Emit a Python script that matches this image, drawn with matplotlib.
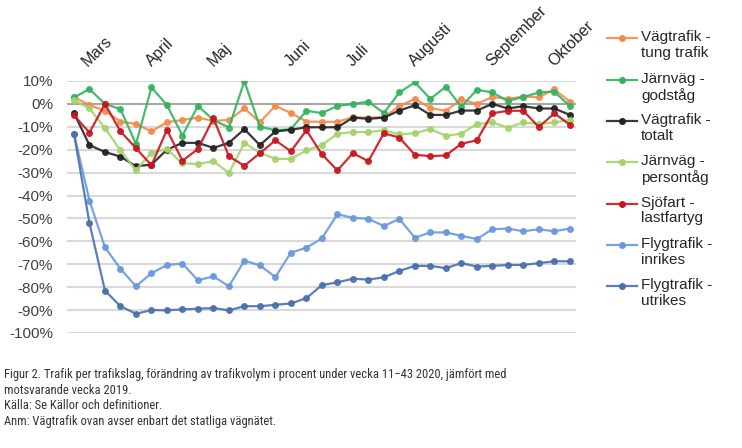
import matplotlib
matplotlib.use("Agg")
import matplotlib.pyplot as plt
from matplotlib import font_manager
from matplotlib.lines import Line2D
import numpy as np

# weeks 11-43, 2020 vs 2019, percent change
WEEKS = list(range(11, 44))

tung_trafik = [3, -0.5, -3, -7.7, -8.8, -12, -8, -7, -6, -7.4, -7, -2, -8, -0.8, -4, -7.7,
               -7.8, -7.8, -5.8, -6, -5.8, -1, 2.2, -1.8, -3, 2, 0, 3, 2.2, 3.2, 2.9, 6.4, 1]
godstag = [2.8, 6.5, 0, -2.3, -17.5, 7.2, -0.5, -13.8, -0.9, -7, -10.3, 9.9, -10, -11.5, -11,
           -3, -4, -0.9, 0, 1, -4, 5, 9.4, 2.2, 7.5, -1.3, 6.2, 5, 1.3, 3, 5, 5.4, -1]
totalt = [-4, -18, -21, -23, -27.2, -26.5, -20, -17, -17, -19.2, -17, -11, -18, -12, -11.3,
          -10.2, -10.2, -10.2, -6, -6.5, -6, -2.9, -0.6, -4.8, -4.8, -2.9, -2.9, 0, -2, -1, -2, -2, -4.8]
persontag = [1.7, -2, -10.6, -20.3, -28.9, -21.3, -19.7, -26, -26.2, -25, -30.2, -17, -21.3, -24,
             -24, -20.3, -18, -13, -12.3, -12.3, -11.5, -13.3, -12.8, -11, -13.9, -13, -8.8, -8.1,
             -10.3, -8.1, -8.8, -8.1, -7]
lastfartyg = [-5, -12.5, 0, -12, -19.3, -26.8, -11.3, -24.8, -19.7, -6.2, -22.9, -27, -21.5,
              -15.9, -20.7, -11.5, -22, -29, -21.5, -25, -12.8, -14.7, -22.2, -22.8, -22.5, -17.4,
              -15.9, -4.1, -3, -3, -10.1, -4.1, -9.1]
inrikes = [-13, -42.2, -62.6, -72, -79.6, -73.9, -70.3, -69.7, -77, -75.3, -79.6, -68.4, -70.5,
           -75.6, -64.9, -62.8, -58.7, -48.2, -49.7, -50.2, -53.3, -50.2, -58.4, -56.1, -56.1,
           -57.6, -59, -54.7, -54.4, -55.6, -54.7, -55.6, -54.4]
utrikes = [-13, -52, -81.5, -88.3, -91.6, -90, -90.1, -89.7, -89.4, -89.1, -90.1, -88.3, -88.3,
           -87.7, -87.1, -84.8, -79.1, -77.9, -76.3, -76.7, -75.7, -72.9, -70.7, -70.7, -71.7,
           -69.5, -71, -70.7, -70.3, -70.3, -69.5, -68.7, -68.7]

MONTHS = ["Mars", "April", "Maj", "Juni", "Juli", "Augusti", "September", "Oktober"]
MONTH_POS = [0.9, 5.0, 9.0, 14.0, 18.0, 22.0, 27.0, 31.0]

SERIES = [
    ("Vägtrafik -\ntung trafik", tung_trafik, "#F28C4E"),
    ("Järnväg -\ngodståg", godstag, "#34B35E"),
    ("Vägtrafik -\ntotalt", totalt, "#222222"),
    ("Järnväg -\npersontåg", persontag, "#A3D46A"),
    ("Sjöfart -\nlastfartyg", lastfartyg, "#C8161E"),
    ("Flygtrafik -\ninrikes", inrikes, "#6A98DE"),
    ("Flygtrafik -\nutrikes", utrikes, "#4A6FAE"),
]

CAPTION = [
    "Figur 2. Trafik per trafikslag, förändring av trafikvolym i procent under vecka 11\u221243 2020, jämfört med",
    "motsvarande vecka 2019.",
    "Källa: Se Källor och definitioner.",
    "Anm: Vägtrafik ovan avser enbart det statliga vägnätet.",
]

# caption in the reference is a condensed face; use one if present, else shrink Roboto
names = set(font_manager.get_font_names())
caption_font, caption_size = "Roboto", 7.7
for fam in ["Roboto Condensed", "Liberation Sans Narrow", "DejaVu Sans Condensed"]:
    if fam in names:
        caption_font, caption_size = fam, 9
        break

plt.rcParams["font.family"] = ["Liberation Sans", "DejaVu Sans"]

fig = plt.figure(figsize=(7.42, 4.48), dpi=100)
ax = fig.add_axes([67 / 742, 1 - 333 / 448, 509 / 742, 252 / 448])

x = np.arange(len(WEEKS))
for label, values, col in SERIES:
    ax.plot(x, values, color=col, lw=1.6, marker="o", ms=4, alpha=0.9, zorder=3)

ax.set_xlim(-0.45, 32.4)
ax.set_ylim(-100, 10)
yt = np.arange(-100, 11, 10)
ax.set_yticks(yt)
ax.set_yticklabels([f"{v}%" for v in yt], fontsize=11, color="#404040")
ax.set_xticks([])
ax.tick_params(axis="y", length=0, pad=10)
for s in ax.spines.values():
    s.set_visible(False)
for v in yt:
    ax.axhline(v, color="#A6A6A6" if v == 0 else "#D9D9D9", lw=1.5, zorder=1)

for m, p in zip(MONTHS, MONTH_POS):
    ax.text(p, 1.055, m, transform=ax.get_xaxis_transform(), rotation=45,
            rotation_mode="anchor", ha="left", va="baseline", fontsize=11.5, color="#262626")

# legend, handle aligned to first text line
for k, (label, values, col) in enumerate(SERIES):
    yc = 1 - (38.5 + 41.3 * k) / 448
    fig.add_artist(Line2D([607 / 742, 637 / 742], [yc, yc], color=col, lw=1.6,
                          transform=fig.transFigure, alpha=0.9))
    fig.add_artist(Line2D([622 / 742], [yc], color=col, marker="o", ms=4,
                          transform=fig.transFigure))
    fig.text(641 / 742, yc + 8 / 448, label, fontsize=11, color="#262626",
             va="top", ha="left", linespacing=1.15)

for k, line in enumerate(CAPTION):
    fig.text(4 / 742, 1 - (378 + 15.5 * k) / 448, line, family=caption_font,
             fontsize=caption_size, color="#333333", va="baseline", ha="left")

fig.savefig("out.png", dpi=100)
